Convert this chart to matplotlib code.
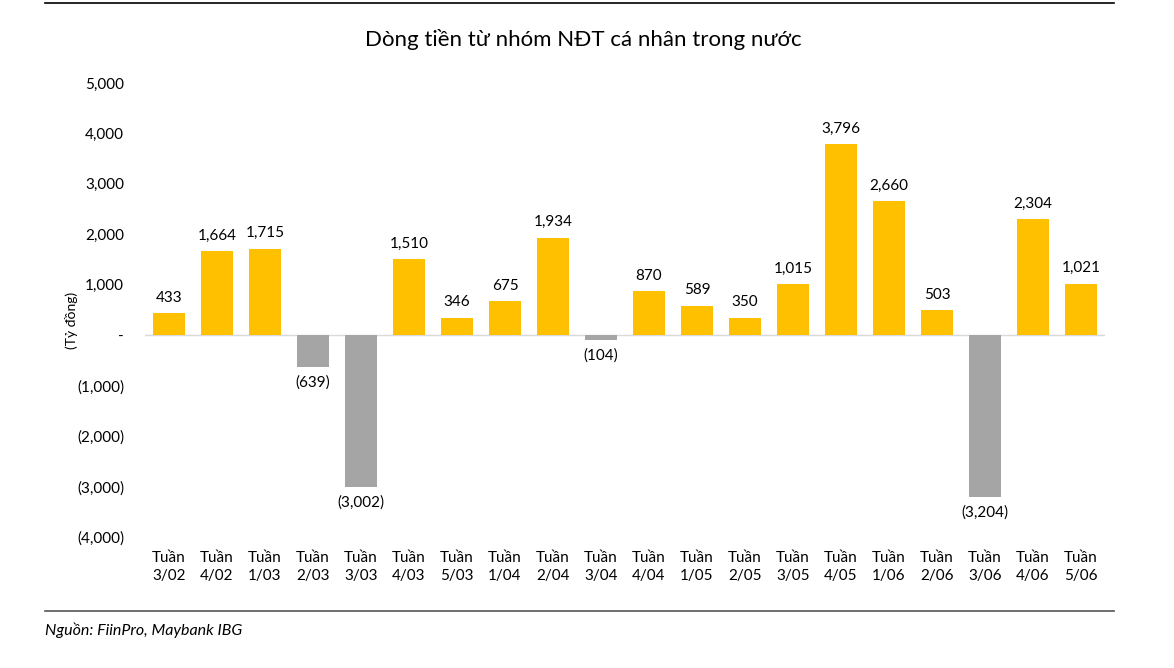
import numpy as np
import matplotlib.pyplot as plt

plt.rcParams['font.family'] = ['Lato', 'DejaVu Sans']

weeks = ["3/02", "4/02", "1/03", "2/03", "3/03", "4/03", "5/03", "1/04", "2/04", "3/04",
         "4/04", "1/05", "2/05", "3/05", "4/05", "1/06", "2/06", "3/06", "4/06", "5/06"]
flows = [433, 1664, 1715, -639, -3002, 1510, 346, 675, 1934, -104,
         870, 589, 350, 1015, 3796, 2660, 503, -3204, 2304, 1021]
yticks = [5000, 4000, 3000, 2000, 1000, 0, -1000, -2000, -3000, -4000]


def fmt(v):
    if v == 0:
        return "-"
    if v < 0:
        return "({:,})".format(-v)
    return "{:,}".format(v)


fig = plt.figure(figsize=(11.74, 6.68), dpi=100)
ax = fig.add_axes([145/1174, 1 - 537/668, 960/1174, 454/668])

x = np.arange(len(weeks))
colors = ['#FFC000' if v >= 0 else '#A5A5A5' for v in flows]
ax.bar(x, flows, width=0.68, color=colors, zorder=2)
ax.axhline(0, color='#D9D9D9', lw=1, zorder=1)

for xi, v in zip(x, flows):
    if v >= 0:
        ax.annotate(fmt(v), (xi, v), xytext=(0, 6), textcoords='offset points',
                    ha='center', va='bottom', fontsize=11)
    else:
        ax.annotate(fmt(v), (xi, v), xytext=(0, -6), textcoords='offset points',
                    ha='center', va='top', fontsize=11)

ax.set_xlim(-0.5, len(weeks) - 0.5)
ax.set_ylim(-4000, 5000)
ax.set_yticks(yticks)
ax.set_yticklabels([fmt(t) for t in yticks], fontsize=11)
ax.set_xticks(x)
ax.set_xticklabels(["Tuần\n" + w for w in weeks], fontsize=11, linespacing=1.4)
ax.tick_params(length=0)
ax.tick_params(axis='y', pad=15)
ax.tick_params(axis='x', pad=10)
for s in ax.spines.values():
    s.set_visible(False)

fig.text(71/1174, 1 - 320/668, "(Tỷ đồng)", rotation=90, ha='center', va='center', fontsize=10)
fig.text(583/1174, 1 - 40/668, "Dòng tiền từ nhóm NĐT cá nhân trong nước", ha='center', va='center', fontsize=16)
fig.text(45/1174, 1 - 630/668, "Nguồn: FiinPro, Maybank IBG", ha='left', va='center', fontsize=11.5, style='italic')

fig.add_artist(plt.Line2D([45/1174, 1114/1174], [1 - 3/668, 1 - 3/668], color='black', lw=1.2))
fig.add_artist(plt.Line2D([45/1174, 1114/1174], [1 - 611/668, 1 - 611/668], color='#555555', lw=1.2))

fig.savefig('out.png', dpi=100)
